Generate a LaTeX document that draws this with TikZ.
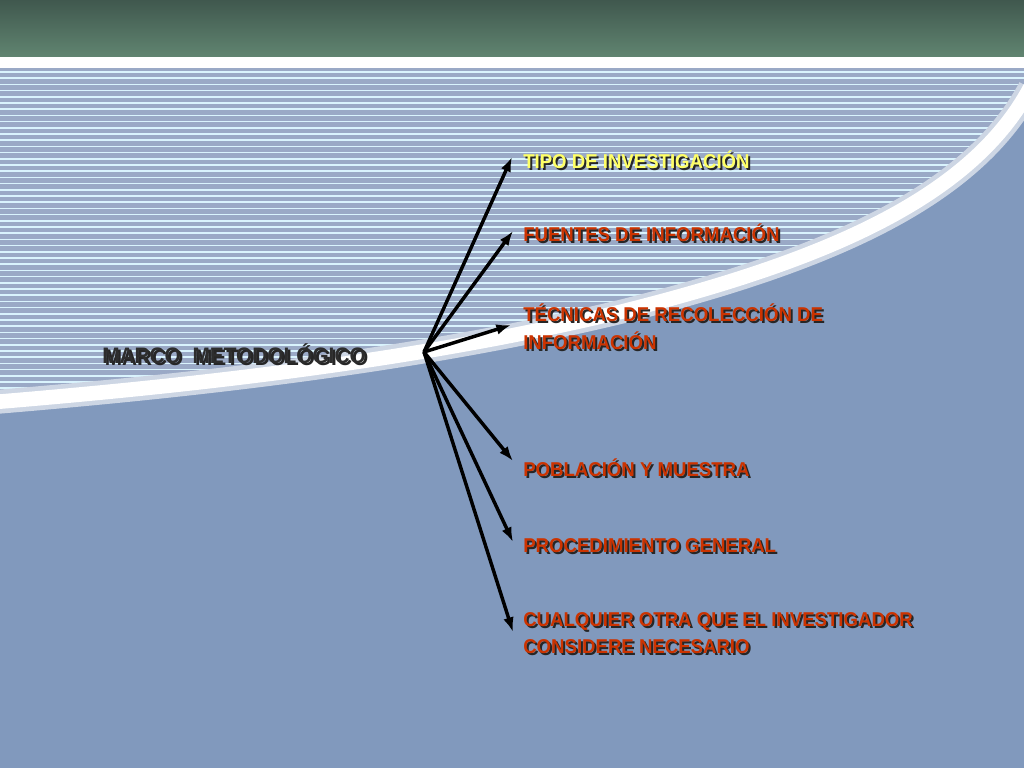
\documentclass[tikz,border=0pt]{standalone}
\usepackage{fontspec}
\setmainfont{Liberation Sans}
\newfontfamily\condf[FakeStretch=0.93]{Liberation Sans}
\usetikzlibrary{calc,arrows.meta}
\begin{document}
\begin{tikzpicture}[x=0.75pt,y=-0.75pt,
  lbl/.style={anchor=north west,inner sep=0,align=left,font=\condf\bfseries\fontsize{15}{20.5}\selectfont},
  arr/.style={-{Latex[length=11pt,width=8pt]},line width=2.6pt,black}]
\definecolor{bgblue}{HTML}{8199BD}
\definecolor{stripe}{HTML}{9AA9C6}
\definecolor{redt}{HTML}{CC3300}
\definecolor{yelt}{HTML}{FFFF66}
\useasboundingbox (0,0) rectangle (1024,768);
\fill[bgblue] (0,0) rectangle (1024,768);
\def\curve{(0,402) .. controls (200,385) and (420,360) .. (620,312) .. controls (820,262) and (970,200) .. (1024,95)}
\fill[stripe] (1024,95) -- (1024,68) -- (0,68) -- \curve -- cycle;
\begin{scope}
\clip (1024,95) -- (1024,68) -- (0,68) -- \curve -- cycle;
\foreach \i in {0,...,54} {\draw[white!85!cyan,line width=1.1pt] (0,{72+6.2*\i}) -- (1024,{72+6.2*\i});}
\end{scope}
\draw[white!60!bgblue,line width=18pt] (-5,402) .. controls (200,385) and (420,360) .. (620,312) .. controls (820,262) and (970,200) .. (1030,88);
\draw[white,line width=11pt] (-5,402) .. controls (200,385) and (420,360) .. (620,312) .. controls (820,262) and (970,200) .. (1030,88);
\shade[top color={rgb,255:red,64;green,88;blue,78},bottom color={rgb,255:red,96;green,132;blue,112}] (0,0) rectangle (1024,56);
\fill[white] (0,57) rectangle (1024,68);
\coordinate (o) at (424,352);
\node[lbl,text=black!85,font=\condf\bfseries\fontsize{16.8}{20}\selectfont,anchor=west] at (104.5,356) {MARCO\ \ METODOLÓGICO};
\node[lbl,text=black!65!gray,font=\condf\bfseries\fontsize{16.8}{20}\selectfont,anchor=west] (m) at (102,354) {MARCO\ \ METODOLÓGICO};
\foreach \nm/\y/\c/\t in {t1/151/yelt/{TIPO DE INVESTIGACIÓN},t2/224/redt/{FUENTES DE INFORMACIÓN},t3/304/redt/{TÉCNICAS DE RECOLECCIÓN DE\\INFORMACIÓN},t4/458/redt/{POBLACIÓN Y MUESTRA},t5/538/redt/{PROCEDIMIENTO GENERAL},t6/612/redt/{CUALQUIER OTRA QUE EL INVESTIGADOR\\CONSIDERE NECESARIO}}{
 \node[lbl,text=black!85] at (525,\y+2) {\t};
 \node[lbl,text=\c] (\nm) at (523,\y) {\t};
}
\coordinate (e1) at (512,157);
\coordinate (e2) at (513,231);
\coordinate (e3) at (511,325);
\coordinate (e4) at (513,461);
\coordinate (e5) at (513,542);
\coordinate (e6) at (513,632);
\foreach \e in {e1,e2,e3,e4,e5,e6} \draw[arr] (o) -- (\e);
\end{tikzpicture}
\end{document}
